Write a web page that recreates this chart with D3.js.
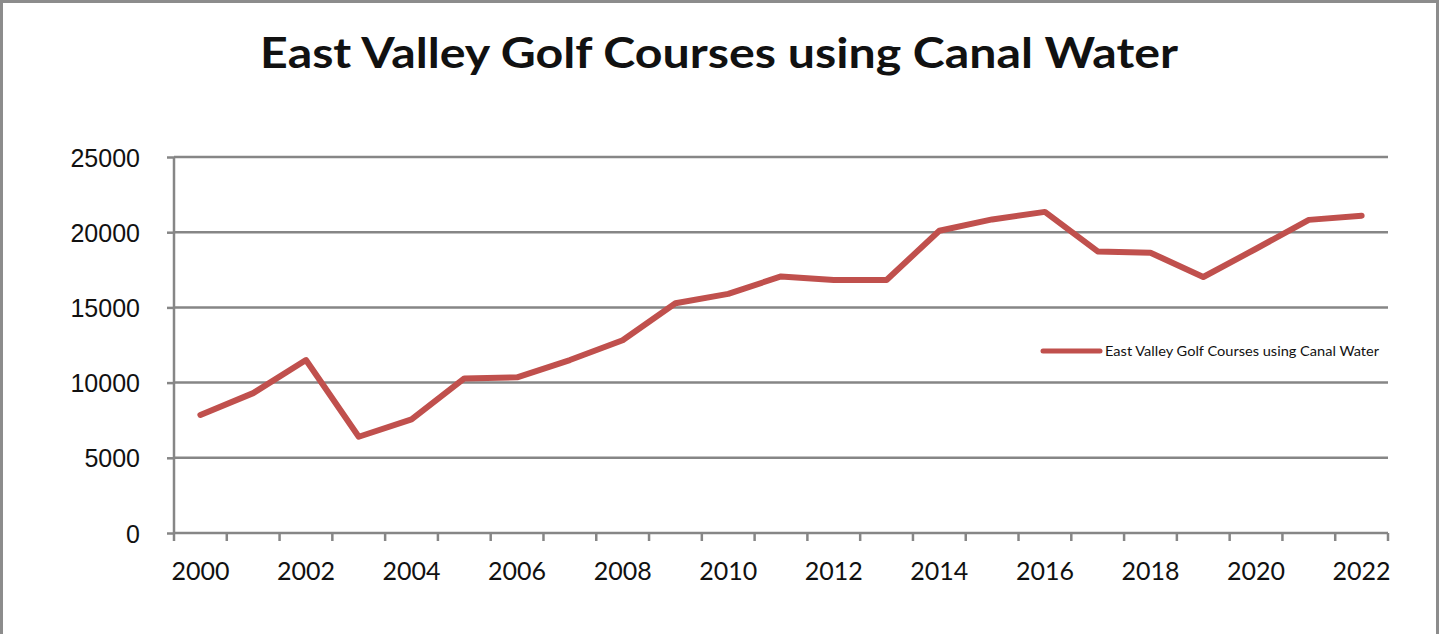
<!DOCTYPE html>
<html>
<head>
<meta charset="utf-8">
<script src="https://cdn.jsdelivr.net/npm/d3@7"></script>
<style>
  body { margin: 0; background: #fff; }
  svg text { font-family: Lato, "Liberation Sans", sans-serif; fill: #111; }
</style>
</head>
<body>
<div id="chart"></div>
<script>
// data
var years = ["2000","2001","2002","2003","2004","2005","2006","2007","2008","2009","2010","2011",
             "2012","2013","2014","2015","2016","2017","2018","2019","2020","2021","2022"];
var canalWater = [7850, 9300, 11500, 6400, 7550, 10280, 10350, 11500, 12820, 15280, 15900, 17060,
                  16820, 16820, 20100, 20850, 21350, 18720, 18640, 17020, 18900, 20820, 21100];
var yTicks = [0, 5000, 10000, 15000, 20000, 25000];
var seriesName = "East Valley Golf Courses using Canal Water";
var chartTitle = "East Valley Golf Courses using Canal Water";

var width = 1440, height = 634;
var margin = {top: 157, right: 52, bottom: 101, left: 174};
var lineColor = "#c0504d", gridColor = "#868686";

var svg = d3.select("#chart").append("svg")
    .attr("width", width)
    .attr("height", height);

// outer chart frame (top, left, right visible)
svg.append("path")
    .attr("d", "M1.5," + height + " V1.5 H1437.5 V" + height)
    .attr("fill", "none")
    .attr("stroke", "#8c8c8c")
    .attr("stroke-width", 3);

svg.append("text")
    .attr("x", 260).attr("y", 68)
    .attr("textLength", 918)
    .attr("lengthAdjust", "spacingAndGlyphs")
    .style("font-size", "42px")
    .style("font-weight", "bold")
    .text(chartTitle);

var x = d3.scaleBand()
    .domain(years)
    .range([margin.left, width - margin.right]);

var y = d3.scaleLinear()
    .domain([0, 25000])
    .range([height - margin.bottom, margin.top]);

// gridlines + y labels
var yAxis = svg.append("g")
    .attr("transform", "translate(" + margin.left + ",0)")
    .call(d3.axisLeft(y).tickValues(yTicks).tickSize(7).tickFormat(d3.format("d")).tickPadding(27));
yAxis.select(".domain").remove();
yAxis.selectAll(".tick line").attr("stroke", gridColor).attr("stroke-width", 2.5);
yAxis.selectAll(".tick text").style("font-size", "25px").style("font-family", "'Liberation Sans', Arial, sans-serif").attr("dy", "0.36em");

svg.append("g")
    .selectAll("line")
    .data(yTicks)
    .join("line")
    .attr("x1", margin.left).attr("x2", width - margin.right)
    .attr("y1", function(d){ return y(d) }).attr("y2", function(d){ return y(d) })
    .attr("stroke", gridColor)
    .attr("stroke-width", 2.5);

// y axis line
svg.append("line")
    .attr("x1", margin.left).attr("x2", margin.left)
    .attr("y1", margin.top).attr("y2", height - margin.bottom)
    .attr("stroke", gridColor).attr("stroke-width", 2.5);

// category ticks sit between the years
var bounds = years.map(function(d){ return x(d) }).concat([x.range()[1]]);
svg.append("g")
    .selectAll("line")
    .data(bounds)
    .join("line")
    .attr("x1", function(d){ return d }).attr("x2", function(d){ return d })
    .attr("y1", height - margin.bottom).attr("y2", height - margin.bottom + 8)
    .attr("stroke", gridColor).attr("stroke-width", 2.5);

svg.append("g")
    .selectAll("text")
    .data(years.filter(function(d, i){ return i % 2 === 0 }))
    .join("text")
    .attr("x", function(d){ return x(d) + x.bandwidth() / 2 })
    .attr("y", height - margin.bottom + 47)
    .attr("text-anchor", "middle")
    .style("font-size", "25px")
    .text(function(d){ return d });

// the series
var line = d3.line()
    .x(function(d, i){ return x(years[i]) + x.bandwidth() / 2 })
    .y(function(d){ return y(d) });

svg.append("path")
    .datum(canalWater)
    .attr("d", line)
    .attr("fill", "none")
    .attr("stroke", lineColor)
    .attr("stroke-width", 6)
    .attr("stroke-linejoin", "round")
    .attr("stroke-linecap", "round");

// legend
var legend = svg.append("g").attr("transform", "translate(1043,351)");
legend.append("line")
    .attr("x1", 0).attr("x2", 57)
    .attr("stroke", lineColor).attr("stroke-width", 5)
    .attr("stroke-linecap", "round");
legend.append("text")
    .attr("x", 62).attr("y", 4.5)
    .attr("textLength", 274)
    .attr("lengthAdjust", "spacingAndGlyphs")
    .style("font-size", "13px")
    .text(seriesName);
</script>
</body>
</html>
